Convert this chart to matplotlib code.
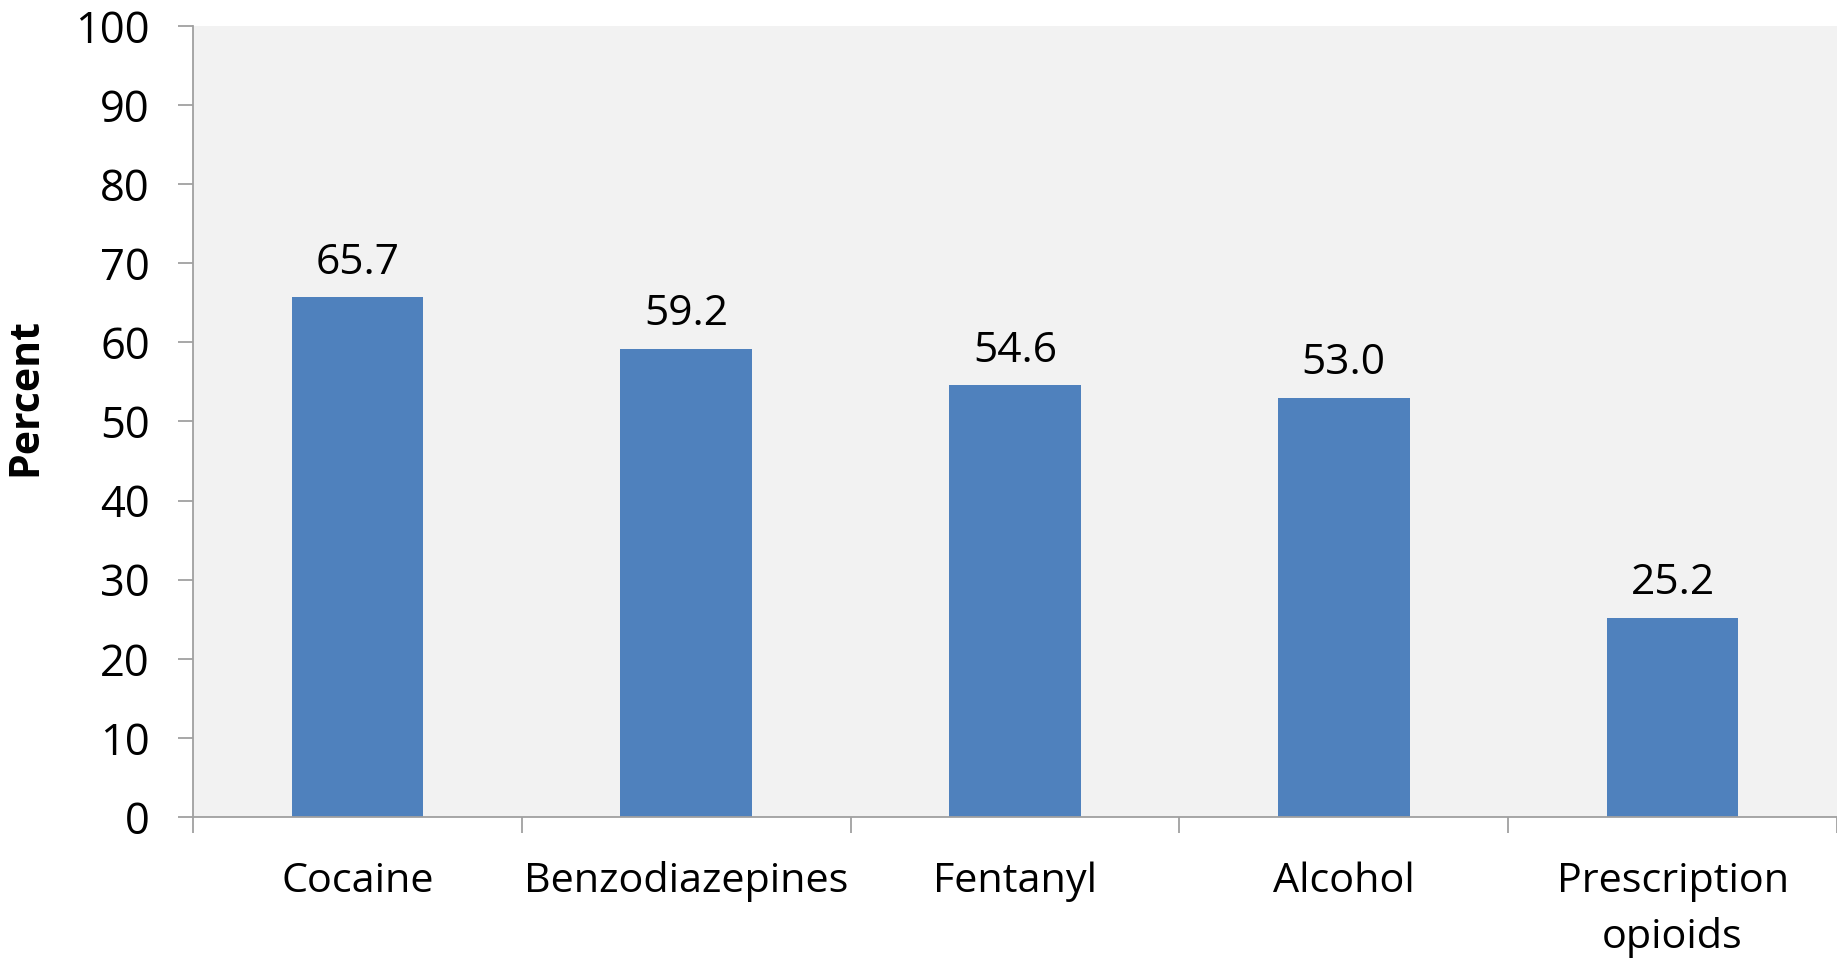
import matplotlib
matplotlib.use("Agg")
import matplotlib.pyplot as plt
import numpy as np

categories = ["Cocaine", "Benzodiazepines", "Fentanyl", "Alcohol", "Prescription\nopioids"]
values = [65.7, 59.2, 54.6, 53.0, 25.2]
yticks = [0, 10, 20, 30, 40, 50, 60, 70, 80, 90, 100]

plt.rcParams['font.family'] = ['Open Sans', 'DejaVu Sans']
FS = 29.8
spine_col = '#A0A0A0'

fig = plt.figure(figsize=(18.37, 9.63), dpi=100)
ax = fig.add_axes([193/1837, 1-817/963, 1-193/1837, (817-26)/963])
ax.set_facecolor('#F2F2F2')

x = np.arange(len(categories))
ax.bar(x, values, width=0.4, color='#4F81BD', zorder=2)
for xi, v in zip(x, values):
    ax.annotate(f"{v:.1f}", (xi, v), xytext=(0, 17), textcoords='offset points',
                ha='center', va='baseline', fontsize=FS + 0.8)

ax.set_xlim(-0.5, len(categories) - 0.5)
ax.set_ylim(0, 100)
ax.set_yticks(yticks)
ax.set_yticklabels([str(t) for t in yticks], fontsize=FS + 1.5)
ax.tick_params(axis='y', direction='out', length=11, width=1.3, color=spine_col, pad=20)

ax.set_xticks(np.arange(len(categories) + 1) - 0.5)
ax.set_xticklabels([])
ax.tick_params(axis='x', which='major', direction='out', length=11.5, width=1.3, color=spine_col)
ax.set_xticks(x, minor=True)
ax.set_xticklabels(categories, minor=True, fontsize=FS, linespacing=1.5)
ax.tick_params(axis='x', which='minor', length=0, pad=32)

for s in ['top', 'right']:
    ax.spines[s].set_visible(False)
for s in ['left', 'bottom']:
    ax.spines[s].set_color(spine_col)
    ax.spines[s].set_linewidth(1.3)

fig.text(26/1837, 1-397/963, "Percent", rotation=90, ha='center', va='center',
         fontsize=29.5, fontweight='bold')

fig.savefig("out.png", dpi=100)
